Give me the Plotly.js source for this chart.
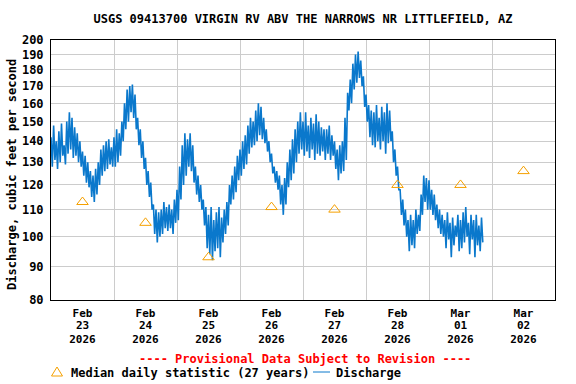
<!DOCTYPE html>
<html>
<head>
<meta charset="utf-8">
<script src="https://cdn.plot.ly/plotly-3.0.1.min.js"></script>
<style>
html,body{margin:0;padding:0;background:#fff;}
#chart{width:576px;height:384px;}
</style>
</head>
<body>
<div id="chart"></div>
<script>
// ---------------- data ----------------
const chartTitle = 'USGS 09413700 VIRGIN RV ABV THE NARROWS NR LITTLEFIELD, AZ';
const yTickValues = [80, 90, 100, 110, 120, 130, 140, 150, 160, 170, 180, 190, 200];
const medianDates = ['2026-02-23 12:00', '2026-02-24 12:00', '2026-02-25 12:00', '2026-02-26 12:00',
                     '2026-02-27 12:00', '2026-02-28 12:00', '2026-03-01 12:00', '2026-03-02 12:00'];
const medianValues = [113, 105, 93, 111, 110, 120, 120, 126];

// discharge readings, every 30 minutes starting 2026-02-23 00:00
const dischargeStartUTC = Date.UTC(2026, 1, 23, 0, 0);
const dischargeStepMinutes = 30;
const dischargeFeb23 = [142,128,148,131,140,127, 145,130,149,133,138,129, 150,134,155,136,152,132, 147,133,144,130,140,128,
                        135,124,133,121,130,119, 126,115,124,113,127,116, 130,120,136,124,138,126, 140,127,141,129,137,128];
const dischargeFeb24 = [142,128,146,130,144,133, 150,140,160,146,168,150, 170,155,171,152,165,146, 152,138,146,132,140,127,
                        132,120,126,115,121,110, 112,101,110,98,109,100, 110,101,113,103,111,102, 112,103,110,101,114,105];
const dischargeFeb25 = [118,106,128,114,138,120, 144,124,141,128,144,126, 138,121,128,116,124,113, 120,110,114,104,111,96,
                        108,94,111,92,106,95, 109,96,111,93,107,98, 110,101,113,104,120,112, 124,114,128,117,133,122];
const dischargeFeb26 = [136,124,140,127,143,129, 148,134,152,137,150,138, 156,140,160,143,158,141, 152,139,146,135,140,130,
                        134,125,128,121,126,118, 124,112,120,108,123,112, 130,119,136,122,141,125, 146,130,150,134,155,136];
const dischargeFeb27 = [150,133,155,135,148,132, 152,136,149,131,154,134, 150,133,147,135,146,131, 146,134,148,131,143,133,
                        140,127,136,122,138,125, 140,126,152,131,166,156, 174,160,184,168,190,172, 192,175,186,170,176,158];
const dischargeFeb28 = [165,150,159,142,156,138, 155,137,159,140,152,136, 158,140,155,134,160,139, 156,140,145,130,136,124,
                        128,118,118,108,114,104, 110,100,106,95,108,97, 106,96,110,101,108,102, 116,108,124,113,123,110];
const dischargeMar01 = [122,110,118,108,116,106, 112,103,110,101,108,100, 106,96,109,99,105,93, 107,97,104,100,108,95,
                        106,96,109,98,111,100, 105,94,108,99,106,93, 108,97,104,95,107,98];

// ---------------- build ----------------
const dischargeValues = [].concat(dischargeFeb23, dischargeFeb24, dischargeFeb25, dischargeFeb26,
                                  dischargeFeb27, dischargeFeb28, dischargeMar01);
const dischargeTimes = dischargeValues.map((v, i) => {
  const d = new Date(dischargeStartUTC + i * dischargeStepMinutes * 60000);
  return d.toISOString().slice(0, 16).replace('T', ' ');
});

const blue = '#0a78cc';
const orange = '#f5a000';
const fontFamily = '"DejaVu Sans Mono", "Liberation Mono", monospace';

const traces = [
  {
    type: 'scatter', mode: 'lines', name: 'Discharge',
    x: dischargeTimes, y: dischargeValues,
    line: {color: blue, width: 1.6, shape: 'linear'},
    hoverinfo: 'skip'
  },
  {
    type: 'scatter', mode: 'markers', name: 'Median daily statistic (27 years)',
    x: medianDates, y: medianValues,
    marker: {symbol: 'triangle-up-open', size: 10, color: orange, line: {color: orange, width: 1}},
    hoverinfo: 'skip'
  },
  {type: 'scatter', x: [], y: [], xaxis: 'x2', yaxis: 'y', hoverinfo: 'skip'},
  {type: 'scatter', x: [], y: [], xaxis: 'x3', yaxis: 'y', hoverinfo: 'skip'}
];

const xRange = ['2026-02-23 00:00', '2026-03-03 00:00'];
function dateAxis(fmt, standoff, extra) {
  return Object.assign({
    type: 'date', range: xRange, autorange: false,
    tick0: '2026-02-23 00:00', dtick: 86400000,
    ticklabelmode: 'period', tickformat: fmt,
    ticks: '', ticklabelstandoff: standoff,
    tickfont: {family: fontFamily, size: 11, color: '#000', weight: 'bold'},
    zeroline: false, fixedrange: true, automargin: false
  }, extra);
}

const pxX = x => (x - 51) / 504;
const pxY = y => (300 - y) / 260;

const layout = {
  width: 576, height: 384,
  margin: {l: 51, r: 21, t: 40, b: 84, pad: 0},
  paper_bgcolor: '#ffffff', plot_bgcolor: '#ffffff',
  font: {family: fontFamily, size: 12, color: '#000', weight: 'bold'},
  showlegend: false,
  title: {
    text: chartTitle, x: 0.5, xref: 'paper', xanchor: 'center',
    y: 1 - 19 / 384, yref: 'container', yanchor: 'middle',
    font: {family: fontFamily, size: 12, color: '#000', weight: 'bold'}
  },
  xaxis: dateAxis('%b', 3, {showgrid: true, gridcolor: '#cccccc', gridwidth: 1,
                            showline: true, linecolor: '#000', linewidth: 1, mirror: true}),
  xaxis2: dateAxis('%d', 17, {overlaying: 'x', anchor: 'y', side: 'bottom', showgrid: false, showline: false}),
  xaxis3: dateAxis('%Y', 31, {overlaying: 'x', anchor: 'y', side: 'bottom', showgrid: false, showline: false}),
  yaxis: {
    type: 'log', range: [Math.log10(80), Math.log10(200)], autorange: false,
    tickmode: 'array', tickvals: yTickValues, ticktext: yTickValues.map(String),
    ticks: '', ticklabelstandoff: 4,
    tickfont: {family: fontFamily, size: 12, color: '#000', weight: 'bold'},
    showgrid: true, gridcolor: '#cccccc', gridwidth: 1,
    showline: true, linecolor: '#000', linewidth: 1, mirror: true,
    zeroline: false, fixedrange: true, automargin: false
  },
  annotations: [
    {
      text: 'Discharge, cubic feet per second', textangle: -90,
      xref: 'paper', yref: 'paper', x: pxX(12), y: pxY(175),
      xanchor: 'center', yanchor: 'middle', showarrow: false,
      font: {family: fontFamily, size: 12, color: '#000', weight: 'bold'}
    },
    {
      text: '---- Provisional Data Subject to Revision ----',
      xref: 'paper', yref: 'paper', x: pxX(305), y: pxY(359),
      xanchor: 'center', yanchor: 'middle', showarrow: false,
      font: {family: fontFamily, size: 12, color: '#ff0000', weight: 'bold'}
    },
    {
      text: 'Median daily statistic (27 years)',
      xref: 'paper', yref: 'paper', x: pxX(69), y: pxY(373),
      xanchor: 'left', yanchor: 'middle', showarrow: false,
      font: {family: fontFamily, size: 12, color: '#000', weight: 'bold'}
    },
    {
      text: 'Discharge',
      xref: 'paper', yref: 'paper', x: pxX(334), y: pxY(373),
      xanchor: 'left', yanchor: 'middle', showarrow: false,
      font: {family: fontFamily, size: 12, color: '#000', weight: 'bold'}
    }
  ],
  shapes: [
    {
      type: 'path', xref: 'paper', yref: 'paper',
      path: 'M ' + pxX(57) + ',' + pxY(367) + ' L ' + pxX(62.5) + ',' + pxY(376) + ' L ' + pxX(51.5) + ',' + pxY(376) + ' Z',
      line: {color: orange, width: 1}, fillcolor: 'rgba(0,0,0,0)'
    },
    {
      type: 'line', xref: 'paper', yref: 'paper',
      x0: pxX(313), x1: pxX(330), y0: pxY(372), y1: pxY(372),
      line: {color: blue, width: 1}
    }
  ]
};

Plotly.newPlot('chart', traces, layout, {staticPlot: true, displayModeBar: false});
</script>
</body>
</html>
